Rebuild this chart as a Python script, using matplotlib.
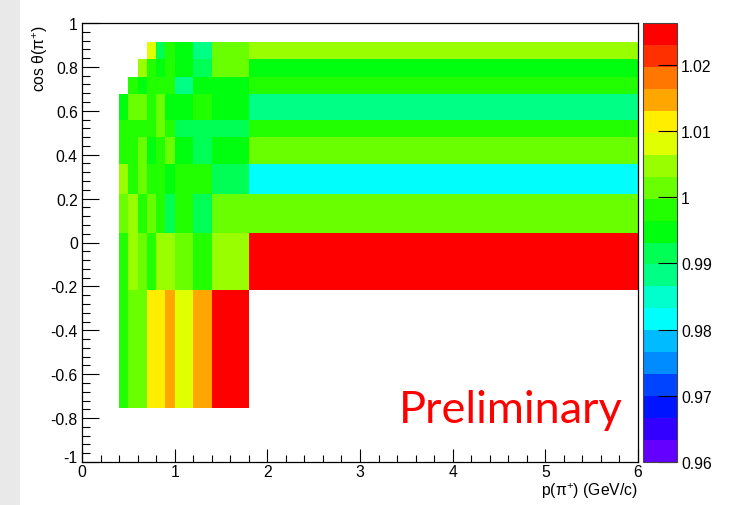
import colorsys
import numpy as np
import matplotlib
matplotlib.use("Agg")
import matplotlib.pyplot as plt
from matplotlib.colors import ListedColormap, BoundaryNorm
from matplotlib.ticker import MultipleLocator, FuncFormatter
from matplotlib.patches import Rectangle
from matplotlib.transforms import ScaledTranslation

plt.rcParams['font.family'] = ['Liberation Sans', 'DejaVu Sans']
plt.rcParams['mathtext.fontset'] = 'custom'
plt.rcParams['mathtext.rm'] = 'Liberation Sans'
plt.rcParams['mathtext.it'] = 'Liberation Sans:italic'

# ---- data ----
p_edges = [0.4, 0.5, 0.6, 0.7, 0.8, 0.9, 1.0, 1.2, 1.4, 1.8, 6.0]
cos_edges = [-0.754, -0.215, 0.042, 0.221, 0.358, 0.479, 0.56, 0.677, 0.755, 0.836, 0.915]
nan = np.nan
# rows from bottom (cos low) to top; columns follow p_edges
row1 = [0.998, 1.0015, 1.0015, 1.0115, 1.0115, 1.0147, 1.008, 1.0147, 1.0245, nan]
row2 = [0.998, 1.0048, 1.0015, 0.998, 1.0048, 1.0048, 1.0015, 0.998, 1.0048, 1.0245]
row3 = [1.0015, 1.0048, 0.998, 1.0015, 0.998, 0.9915, 0.998, 0.9915, 1.0015, 1.0015]
row4 = [1.0048, 0.998, 1.0015, 0.998, 0.998, 0.995, 0.998, 0.998, 0.9915, 0.9815]
row5 = [0.998, 0.998, 1.0015, 0.995, 0.998, 1.0015, 0.995, 0.9915, 0.995, 1.0015]
row6 = [0.998, 0.998, 0.998, 0.998, 1.0015, 0.998, 0.9915, 0.9915, 0.9915, 0.998]
row7 = [0.995, 1.0015, 1.0015, 0.998, 1.0015, 0.995, 0.995, 0.998, 0.995, 0.988]
row8 = [nan, 0.998, 0.995, 0.998, 0.998, 0.998, 0.988, 0.995, 0.995, 0.998]
row9 = [nan, nan, 1.0048, 0.998, 0.995, 0.998, 0.995, 0.9915, 1.0015, 0.995]
row10 = [nan, nan, nan, 1.008, 0.9915, 0.998, 0.995, 0.988, 1.0015, 1.0048]
z_min, z_max = 0.96, 1.0263
n_contours = 20
cbar_ticks = [0.96, 0.97, 0.98, 0.99, 1.0, 1.01, 1.02]
cbar_labels = ["0.96", "0.97", "0.98", "0.99", "1", "1.01", "1.02"]

Z = np.ma.masked_invalid(np.array([row1, row2, row3, row4, row5, row6,
                                   row7, row8, row9, row10]))

# ROOT "pretty" palette (violet -> red) sampled for 20 contours
pal = []
for j in range(n_contours):
    k = int((j + 0.99) * 50 / n_contours)
    hue = 280 - (k + 1) * 5.6
    pal.append(colorsys.hls_to_rgb(hue / 360.0, 0.5, 1.0))
cmap = ListedColormap(pal)
levels = np.linspace(z_min, z_max, n_contours + 1)
norm = BoundaryNorm(levels, n_contours)

W, H = 749, 506
fig = plt.figure(figsize=(W / 100, H / 100), dpi=100)
fig.patches.append(Rectangle((0, 0), 20 / W, 1, transform=fig.transFigure,
                             facecolor='#e9e9e9', edgecolor='none', zorder=-5))

ax = fig.add_axes([82 / W, 1 - 463 / H, (638 - 82) / W, (463 - 24) / H])
mesh = ax.pcolormesh(p_edges, cos_edges, Z, cmap=cmap, norm=norm,
                     antialiased=False, linewidth=0)
ax.set_xlim(0, 6)
ax.set_ylim(-1, 1)
ax.set_xticks(range(7))
ax.xaxis.set_minor_locator(MultipleLocator(0.2))
ax.set_yticks(np.linspace(-1, 1, 11))
ax.yaxis.set_minor_locator(MultipleLocator(0.04))


def fmt(v, pos=None):
    v = round(v, 2)
    if abs(v) < 1e-9:
        return "0"
    return "%g" % v


ax.xaxis.set_major_formatter(FuncFormatter(fmt))
ax.yaxis.set_major_formatter(FuncFormatter(fmt))
ax.tick_params(axis='x', which='major', direction='in', length=9.4, width=0.8,
               labelsize=11.3, pad=1.5, top=False)
ax.tick_params(axis='x', which='minor', direction='in', length=4.7, width=0.8, top=False)
ax.tick_params(axis='y', which='major', direction='in', length=12, width=0.8,
               labelsize=11.3, pad=3, right=False)
ax.tick_params(axis='y', which='minor', direction='in', length=6, width=0.8, right=False)
for s in ax.spines.values():
    s.set_linewidth(0.9)
    s.set_color('black')

# shift the "-1" label up like ROOT does
fig.canvas.draw()
ylabs = ax.get_yticklabels()
ylabs[0].set_transform(ylabs[0].get_transform() +
                       ScaledTranslation(0, 6 / 100, fig.dpi_scale_trans))

fig.text(40 / W, 1 - 25 / H, r"cos θ(π$^{+}$)", rotation=90, ha='center',
         va='top', fontsize=11.3)
fig.text(638 / W, 1 - 491 / H, r"p(π$^{+}$) (GeV/c)", ha='right',
         va='center', fontsize=11.3)

cax = fig.add_axes([643 / W, 1 - 463 / H, 34 / W, (463 - 24) / H])
cb = fig.colorbar(mesh, cax=cax, ticks=cbar_ticks)
cb.ax.set_yticklabels(cbar_labels)
cb.ax.minorticks_off()
cb.ax.tick_params(direction='in', length=13.5, width=0.8, labelsize=11.3, pad=3)
cb.outline.set_linewidth(0.8)
cb.outline.set_edgecolor('#444444')

fig.text(511 / W, 1 - 423 / H, "Preliminary", color='#ff0000', ha='center',
         va='baseline', fontsize=32.5, family=['Lato', 'DejaVu Sans'])

fig.savefig("out.png", dpi=100)
